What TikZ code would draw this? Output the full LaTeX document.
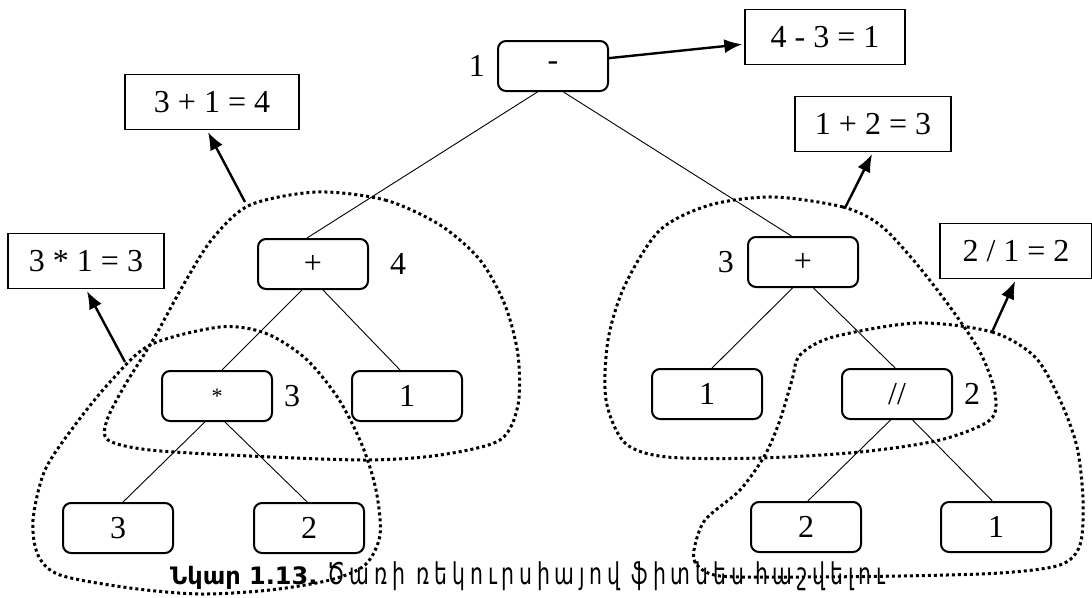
\documentclass[tikz,border=0pt]{standalone}
\usepackage{fontspec}
\setmainfont{Liberation Serif}
\newfontfamily\capfont{DejaVu Sans}
\newfontfamily\armfont[LetterSpace=16,FakeStretch=0.68]{DejaVu Sans}
\usepackage{tikz}
\usetikzlibrary{positioning}
\usetikzlibrary{arrows.meta}

\tikzset{
	op/.style={draw, line width=2pt, rounded corners=8pt, minimum width=110pt, minimum height=50pt, inner sep=0pt},
	result/.style={draw, line width=1.4pt, minimum width=156pt, minimum height=55pt, inner sep=0pt},
	num/.style={inner sep=0pt},
	branch/.style={line width=0.9pt},
	group/.style={line width=3pt, dash pattern=on 3pt off 3pt},
	toresult/.style={line width=2.4pt, -{Latex[length=18pt,width=14pt]}, shorten >=2pt}
}

\begin{document}
\begin{tikzpicture}[x=1pt,y=-1pt,font=\fontsize{32}{38}\selectfont]
	
	\useasboundingbox (0,0) rectangle (1092,597);
	
	% the expression tree
	\node [op] (root) at (553,66) {-};
	
	\node [op] (plusL) at (313,264) {+};
	
	\node [op] (plusR) at (803,262) {+};
	
	\node [op] (times) at (217,396) {\fontsize{22}{26}\selectfont *};
	
	\node [op] (oneL) at (407,396) {1};
	
	\node [op] (oneR) at (707,394) {1};
	
	\node [op] (div) at (897,394) {//};
	
	\node [op] (three) at (118,528) {3};
	
	\node [op] (two) at (309,528) {2};
	
	\node [op] (twoR) at (806,527) {2};
	
	\node [op] (oneRR) at (996,527) {1};
	
	% values next to the operators
	\node [num, left=12pt of root] (rootval) {1};
	
	\node [num, right=21pt of plusL] (plusLval) {4};
	
	\node [num, right=11pt of times] (timesval) {3};
	
	\node [num, left=13pt of plusR] (plusRval) {3};
	
	\node [num, right=11pt of div] (divval) {2};
	
	\draw [branch] (root.239) -- (plusL.103);
	\draw [branch] (root.292) -- (plusR.114);
	\draw [branch] (plusL.247) -- (times.79);
	\draw [branch] (plusL.291) -- (oneL.105);
	\draw [branch] (times.245) -- (three.79);
	\draw [branch] (times.287) -- (two.94);
	\draw [branch] (plusR.248) -- (oneR.79);
	\draw [branch] (plusR.292) -- (div.94);
	\draw [branch] (div.256) -- (twoR.86);
	\draw [branch] (div.301) -- (oneRR.98);
	
	% results
	\node [result, minimum width=160pt] (resRoot) at (825,37) {4 - 3 = 1};
	
	\node [result, minimum width=174pt] (resPlusL) at (212,102) {3 + 1 = 4\hspace{20pt}};
	
	\node [result] (resTimes) at (86,261) {3 * 1 = 3};
	
	\node [result] (resPlusR) at (873,124) {1 + 2 = 3};
	
	\node [result, minimum width=152pt] (resDiv) at (1016,251) {2 / 1 = 2};
	
	% dotted subtrees
	\draw [group] plot [smooth cycle] coordinates {(317,192) (385,200) (440,225) (480,260) (505,305) (518,355) (518,405) (500,440) (440,455) (367,460) (250,456) (150,450) (108,440) (107,420) (125,385) (153,340) (185,282) (213,238) (250,205)};
	
	\draw [group] plot [smooth cycle] coordinates {(220,327) (265,333) (305,358) (338,398) (362,445) (376,490) (380,535) (365,565) (330,580) (270,590) (200,594) (130,588) (60,575) (38,555) (33,520) (45,470) (75,425) (110,382) (150,345)};
	
	\draw [group] plot [smooth cycle] coordinates {(773,197) (843,207) (880,225) (915,262) (950,307) (980,352) (995,393) (990,420) (940,440) (860,452) (760,458) (667,457) (625,443) (606,400) (608,340) (625,285) (660,230) (710,205)};
	
	\draw [group] plot [smooth cycle] coordinates {(917,323) (992,332) (1035,357) (1060,400) (1077,447) (1083,500) (1080,545) (1060,565) (1000,573) (900,576) (800,577) (720,576) (697,565) (694,550) (705,520) (740,490) (765,455) (780,420) (792,380) (800,355) (833,337)};
	
	\coordinate (grpPlusL) at (245,202);
	\coordinate (grpTimes) at (125,362);
	\coordinate (grpPlusR) at (845,208);
	\coordinate (grpDiv) at (992,332);
	
	\draw [toresult] (root.8) -- (resRoot.185);
	\draw [toresult] (grpPlusL) -- (resPlusL.260);
	\draw [toresult] (grpTimes) -- (resTimes.south);
	\draw [toresult] (grpPlusR) -- (resPlusR.south);
	\draw [toresult] (grpDiv) -- (resDiv.south);
	
	\node [anchor=base west, inner sep=0pt, font=\capfont\fontsize{24}{28}\selectfont] (caption) at (170,584) {\textbf{Նկար 1.13.} {\armfont\fontsize{30}{34}\selectfont Ծառի ռեկուրսիայով ֆիտնես հաշվելու}};
	
\end{tikzpicture}
\end{document}
